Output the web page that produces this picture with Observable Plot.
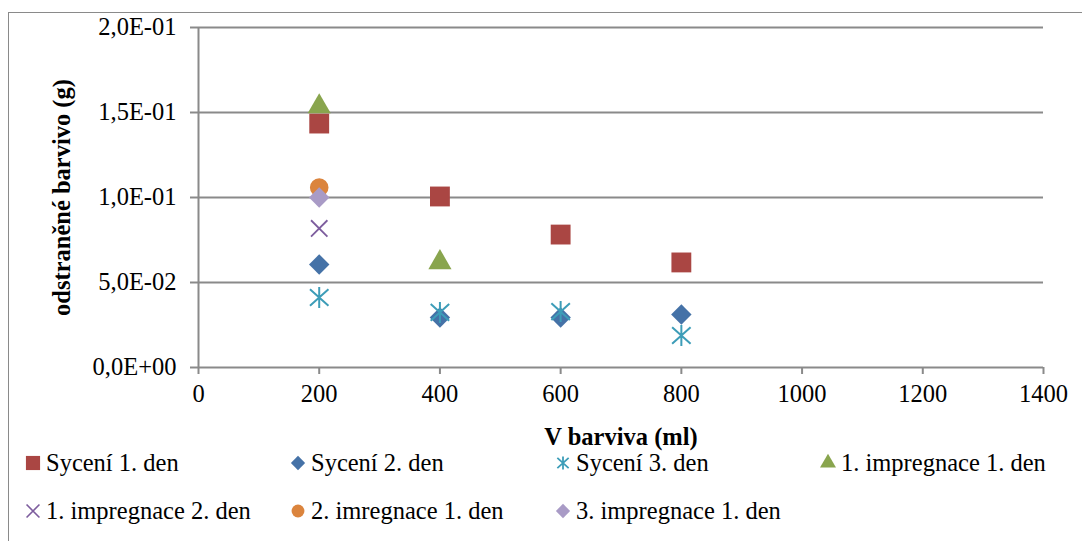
<!DOCTYPE html>
<html><head><meta charset="utf-8">
<script src="https://cdn.jsdelivr.net/npm/d3@7"></script>
<script src="https://cdn.jsdelivr.net/npm/@observablehq/plot@0.6"></script>
<style>
body{margin:0;background:#fff;font-family:"Liberation Serif","Times New Roman",Times,"DejaVu Serif",serif;}
#wrap{position:relative;width:1082px;height:541px;overflow:hidden;}
#frame{position:absolute;left:8px;top:12px;width:1100px;height:560px;border:1px solid #8a8a8a;box-sizing:border-box;}
#chart{position:absolute;left:0;top:0;}
#chart svg text{font-family:"Liberation Serif","Times New Roman",Times,"DejaVu Serif",serif;}
g[aria-label="y-axis label"] text, g[aria-label="x-axis label"] text{font-weight:bold;}
#legend{position:absolute;left:0;top:0;width:1082px;height:541px;pointer-events:none;}
.li{position:absolute;display:flex;align-items:center;font-size:24.5px;color:#000;white-space:nowrap;}
.li svg{margin-right:2px;}
</style></head>
<body><div id="wrap"><div id="frame"></div><div id="chart"></div><div id="legend"></div></div>
<script>
const xValues = [200, 400, 600, 800];
const seriesNames = ["Sycení 1. den","Sycení 2. den","Sycení 3. den","1. impregnace 1. den","1. impregnace 2. den","2. imregnace 1. den","3. impregnace 1. den"];
const syceni1 = [0.1435, 0.1006, 0.0782, 0.0618];
const syceni2 = [0.0606, 0.0294, 0.0294, 0.0312];
const syceni3 = [0.0412, 0.0324, 0.0329, 0.0188];
const impreg1den1 = [0.1535, 0.0618];
const impreg1den2 = [0.0818];
const impreg2den1 = [0.1059];
const impreg3den1 = [0.1000];
const xTicks = [0,200,400,600,800,1000,1200,1400];
const yTicks = [0,0.05,0.1,0.15,0.2];

const colors = ["#AA4643","#4572A7","#3D9DB8","#89A54E","#7D5D9E","#DB843D","#A99BC6"];

const asterisk = {draw(ctx, size){const r=Math.sqrt(size/Math.PI);const a=r*0.88;
  ctx.moveTo(0,-r);ctx.lineTo(0,r);ctx.moveTo(-a,-a*0.9);ctx.lineTo(a,a*0.9);ctx.moveTo(-a,a*0.9);ctx.lineTo(a,-a*0.9);}};

const toRows = (vals) => vals.map((v,i)=>({x:xValues[i], y:v}));

const fmt = d => {
  if (d === 0) return "0,0E+00";
  const e = Math.floor(Math.log10(d) + 1e-9);
  const m = d / Math.pow(10, e);
  return m.toFixed(1).replace(".", ",") + "E" + (e < 0 ? "-" : "+") + String(Math.abs(e)).padStart(2, "0");
};

const series = [
  {data: syceni1, symbol: "square", r: 11.2, fill: true},
  {data: syceni2, symbol: "diamond2", r: 9.2, fill: true},
  {data: syceni3, symbol: asterisk, r: 10.5, fill: false, sw: 2},
  {data: impreg1den1, symbol: "triangle", r: 8.6, fill: true},
  {data: impreg1den2, symbol: "times", r: 7.5, fill: false, sw: 1.8},
  {data: impreg2den1, symbol: "circle", r: 9.3, fill: true},
  {data: impreg3den1, symbol: "diamond2", r: 9.2, fill: true},
];

const marks = [
  Plot.gridY(yTicks.slice(1), {stroke: "#8a8a8a", strokeOpacity: 1, strokeWidth: 2}),
  Plot.ruleY([0], {stroke: "#8a8a8a", strokeWidth: 2}),
  Plot.ruleX([0], {stroke: "#8a8a8a", strokeWidth: 2}),
  Plot.axisY({ticks: yTicks, tickFormat: fmt, tickSize: 8, tickPadding: 14, stroke:"#8a8a8a", strokeWidth: 2,
    label: "odstraněné barvivo (g)", labelAnchor: "center", labelOffset: 146, labelArrow: "none"}),
  Plot.axisX({ticks: xTicks, tickFormat: d => String(d), tickSize: 7, tickPadding: 10, stroke:"#8a8a8a", strokeWidth: 2,
    label: "V barviva (ml)", labelAnchor: "center", labelOffset: 77, labelArrow: "none"}),
];
series.forEach((s, i) => {
  const o = {x: "x", y: "y", symbol: () => s.symbol, r: s.r};
  if (s.fill) { o.fill = colors[i]; o.stroke = "none"; }
  else { o.stroke = colors[i]; o.fill = "none"; o.strokeWidth = s.sw; }
  marks.push(Plot.dot(toRows(s.data), o));
});

const chart = Plot.plot({
  width: 1082, height: 450,
  marginTop: 27, marginLeft: 198, marginRight: 39, marginBottom: 83,
  style: {fontFamily: '"Liberation Serif","Times New Roman",Times,serif', fontSize: "24.5px", color: "#000", background: "transparent", overflow: "visible"},
  x: {domain: [0, 1400]},
  y: {domain: [0, 0.2]},
  symbol: {type: "identity"},
  marks
});
document.getElementById("chart").appendChild(chart);

// legend
const legendPos = [[22,463],[287,463],[552,463],[817,463],[22,511],[287,511],[552,511]];
const leg = document.getElementById("legend");
const legSym = [d3.symbolSquare, d3.symbolDiamond2, null, d3.symbolTriangle, d3.symbolTimes, d3.symbolCircle, d3.symbolDiamond2];
const legSize = [200, 130, 0, 110, 110, 130, 130];
seriesNames.forEach((name, i) => {
  const div = document.createElement("div");
  div.className = "li";
  div.style.left = legendPos[i][0] + "px";
  div.style.top = (legendPos[i][1] - 14) + "px";
  div.style.height = "28px";
  const svg = d3.create("svg").attr("width", 22).attr("height", 22);
  const g = svg.append("g").attr("transform", "translate(11,11)");
  if (i === 2) {
    const p = d3.path(); asterisk.draw(p, 130);
    g.append("path").attr("d", p.toString()).attr("stroke", colors[i]).attr("stroke-width", 1.8).attr("fill", "none");
  } else if (i === 4) {
    g.append("path").attr("d", d3.symbol(legSym[i], legSize[i])()).attr("stroke", colors[i]).attr("stroke-width", 1.6).attr("fill", "none");
  } else {
    g.append("path").attr("d", d3.symbol(legSym[i], legSize[i])()).attr("fill", colors[i]);
  }
  div.appendChild(svg.node());
  const span = document.createElement("span");
  span.textContent = name;
  div.appendChild(span);
  leg.appendChild(div);
});
</script></body></html>
